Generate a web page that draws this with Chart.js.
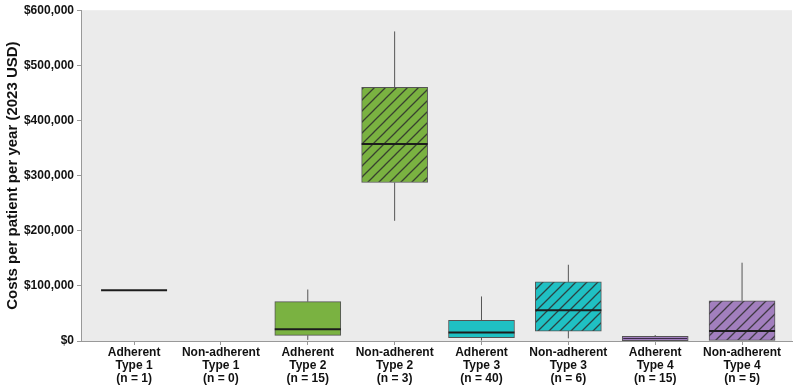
<!DOCTYPE html>
<html>
<head>
<meta charset="utf-8">
<script src="https://cdn.jsdelivr.net/npm/chart.js@4.4.1/dist/chart.umd.min.js"></script>
<style>
  html, body { margin: 0; padding: 0; background: #fff; }
  #wrap { width: 798px; height: 390px; }
</style>
</head>
<body>
<div id="wrap"><canvas id="chart"></canvas></div>
<script>
// categories (multi-line tick labels)
const categories = [
  ['Adherent', 'Type 1', '(n = 1)'],
  ['Non-adherent', 'Type 1', '(n = 0)'],
  ['Adherent', 'Type 2', '(n = 15)'],
  ['Non-adherent', 'Type 2', '(n = 3)'],
  ['Adherent', 'Type 3', '(n = 40)'],
  ['Non-adherent', 'Type 3', '(n = 6)'],
  ['Adherent', 'Type 4', '(n = 15)'],
  ['Non-adherent', 'Type 4', '(n = 5)']
];

// box plot values, USD 2023 (null = no patients)
const whiskerLow  = [92000, null, 2000,   218000, 1000,  4800,   0,     1000];
const q1          = [92000, null, 10200,  287500, 6000,  18000,  500,   1200];
const median      = [92000, null, 21500,  357500, 15600, 55700,  4500,  18000];
const q3          = [92000, null, 71300,  460000, 37700, 107200, 8400,  73000];
const whiskerHigh = [92000, null, 93400,  561500, 80800, 138300, 10800, 142000];

const hatched = [false, true, false, true, false, true, false, true];
const baseColors = ['#7ab241', '#7ab241', '#7ab241', '#7ab241', '#1fc0c3', '#1fc0c3', '#a27fbe', '#a27fbe'];

const yTicks = [0, 100000, 200000, 300000, 400000, 500000, 600000];

function makeHatch(color) {
  const size = 11;
  const c = document.createElement('canvas');
  c.width = size; c.height = size;
  const g = c.getContext('2d');
  g.fillStyle = color;
  g.fillRect(0, 0, size, size);
  g.strokeStyle = 'rgba(45,45,45,0.85)';
  g.lineWidth = 1.3;
  g.beginPath();
  g.moveTo(-1, size + 1); g.lineTo(size + 1, -1);
  g.moveTo(-1, 1); g.lineTo(1, -1);
  g.moveTo(size - 1, size + 1); g.lineTo(size + 1, size - 1);
  g.stroke();
  return document.getElementById('chart').getContext('2d').createPattern(c, 'repeat');
}

const fills = baseColors.map((c, i) => hatched[i] ? makeHatch(c) : c);

const bgPlugin = {
  id: 'bg',
  beforeDraw(chart) {
    const a = chart.chartArea, ctx = chart.ctx;
    ctx.save();
    ctx.fillStyle = '#ebebeb';
    ctx.fillRect(a.left, a.top, a.right - a.left, a.bottom - a.top);
    ctx.restore();
  }
};

// whiskers and medians drawn through the scales
const boxPlugin = {
  id: 'boxparts',
  afterDatasetsDraw(chart) {
    const ctx = chart.ctx, xs = chart.scales.x, ys = chart.scales.y;
    const half = 33;
    ctx.save();
    categories.forEach((c, i) => {
      if (median[i] === null) return;
      const x = xs.getPixelForValue(i);
      ctx.strokeStyle = '#555';
      ctx.lineWidth = 1;
      ctx.beginPath();
      ctx.moveTo(x, ys.getPixelForValue(q3[i]));
      ctx.lineTo(x, ys.getPixelForValue(whiskerHigh[i]));
      ctx.moveTo(x, ys.getPixelForValue(q1[i]));
      ctx.lineTo(x, ys.getPixelForValue(whiskerLow[i]));
      ctx.stroke();
      const thin = (q3[i] - q1[i]) < 15000 && q3[i] !== q1[i];
      ctx.strokeStyle = thin ? '#3a2a4a' : '#1c1c1c';
      ctx.lineWidth = thin ? 1 : 2;
      const ym = ys.getPixelForValue(median[i]);
      ctx.beginPath();
      ctx.moveTo(x - half + (thin ? 1 : 0), ym);
      ctx.lineTo(x + half - (thin ? 1 : 0), ym);
      ctx.stroke();
    });
    ctx.restore();
  }
};

const boxData = categories.map((c, i) => ({ x: i, y: q1[i] === null ? null : [q1[i], q3[i]] }));

new Chart(document.getElementById('chart'), {
  type: 'bar',
  data: {
    datasets: [{
      data: boxData,
      backgroundColor: fills,
      borderColor: '#555',
      borderWidth: 1,
      borderSkipped: false,
      barThickness: 66
    }]
  },
  options: {
    responsive: true,
    maintainAspectRatio: false,
    animation: false,
    layout: { padding: { top: 6, right: 6, left: 0, bottom: 0 } },
    plugins: { legend: { display: false }, tooltip: { enabled: false } },
    scales: {
      x: {
        type: 'linear',
        offset: false,
        min: -0.611,
        max: 7.575,
        afterBuildTicks(scale) { scale.ticks = categories.map((c, i) => ({ value: i })); },
        afterFit(scale) { scale.height = 49; },
        grid: { offset: false, drawOnChartArea: false, drawTicks: true, tickLength: 4, color: '#999' },
        border: { color: '#999', width: 1 },
        ticks: {
          autoSkip: false,
          maxRotation: 0,
          padding: 1,
          color: '#111',
          font: { family: 'Liberation Sans, Arial, sans-serif', size: 12, weight: 'bold', lineHeight: 1.1 },
          callback: (v) => categories[v]
        }
      },
      y: {
        min: 0,
        max: 600000,
        afterBuildTicks(scale) { scale.ticks = yTicks.map(v => ({ value: v })); },
        afterFit(scale) { scale.width = 81; },
        grid: { drawOnChartArea: false, drawTicks: true, tickLength: 4, color: '#999' },
        border: { color: '#999', width: 1 },
        title: {
          display: true,
          text: 'Costs per patient per year (2023 USD)',
          color: '#111',
          padding: { top: 4, bottom: 0 },
          font: { family: 'Liberation Sans, Arial, sans-serif', size: 15, weight: 'bold' }
        },
        ticks: {
          padding: 3,
          color: '#111',
          font: { family: 'Liberation Sans, Arial, sans-serif', size: 12, weight: 'bold' },
          callback: (v) => '$' + v.toLocaleString('en-US')
        }
      }
    }
  },
  plugins: [bgPlugin, boxPlugin]
});
</script>
</body>
</html>
